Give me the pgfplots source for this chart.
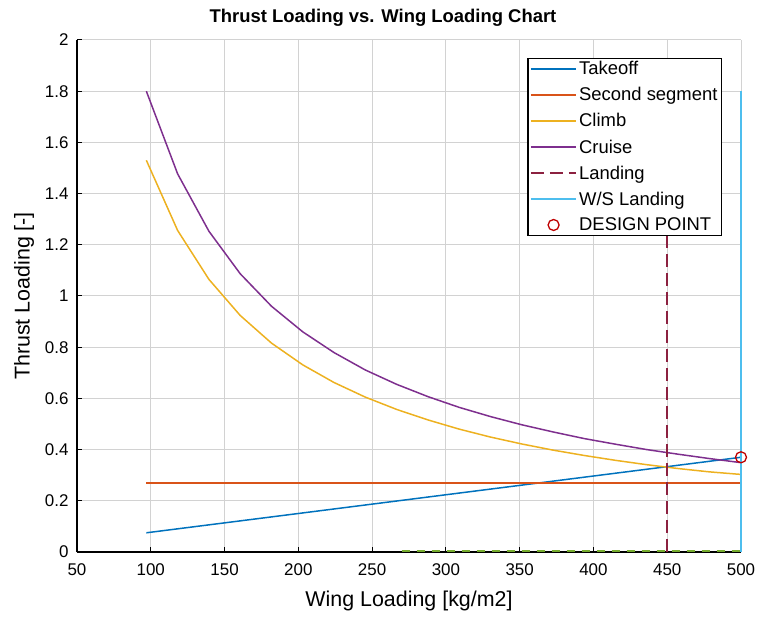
\documentclass[border=0pt]{standalone}
\usepackage{pgfplots}
\pgfplotsset{compat=1.18}
\usepackage{fontspec}
\setmainfont{Liberation Sans}
\definecolor{cTO}{rgb}{0,0.447,0.741}
\definecolor{cSS}{rgb}{0.85,0.325,0.098}
\definecolor{cCL}{rgb}{0.929,0.694,0.125}
\definecolor{cCR}{rgb}{0.494,0.184,0.556}
\definecolor{cLA}{rgb}{0.55,0.13,0.25}
\definecolor{cWS}{rgb}{0.301,0.745,0.933}
\definecolor{cGR}{rgb}{0.466,0.674,0.188}
\definecolor{cDP}{rgb}{0.75,0,0}
\begin{document}
\begin{tikzpicture}
\begin{axis}[
  name=ax,
  scale only axis,
  width=664bp, height=512bp,
  xmin=50, xmax=500, ymin=0, ymax=2,
  clip=false,
  axis x line*=bottom, axis y line*=left,
  xtick={50,100,...,500},
  ytick={0,0.2,0.4,0.6,0.8,1,1.2,1.4,1.6,1.8,2},
  yticklabels={0,0.2,0.4,0.6,0.8,1,1.2,1.4,1.6,1.8,2},
  /pgf/number format/assume math mode=true,
  tick align=inside,
  major tick length=5bp,
  tick style={black, line width=1pt},
  grid=major,
  grid style={gray!35, line width=1pt},
  axis line style={black, line width=1.2pt},
  ticklabel style={font=\fontsize{17}{20}\selectfont},
  xticklabel style={yshift=-8bp},
  yticklabel style={xshift=-5bp},
  title={\textbf{Thrust Loading vs. Wing Loading Chart}},
  title style={font=\fontsize{18.5}{21}\selectfont, yshift=4bp, xshift=-26bp},
  xlabel={Wing Loading [kg/m2]},
  ylabel={Thrust Loading [-]},
  label style={font=\fontsize{21.5}{25}\selectfont},
  xlabel style={yshift=-9bp},
  ylabel style={yshift=4bp},
  legend style={at={(0.9715,0.965)}, anchor=north east, draw=black, fill=white,
    font=\fontsize{18.5}{21}\selectfont, row sep=9.2bp, inner sep=2bp,
    line width=1.2pt, nodes={inner ysep=1bp}},
  legend cell align=left,
  legend image code/.code={\draw[mark repeat=2,mark phase=2,#1] plot coordinates {(0cm,0cm) (0.8cm,0cm) (1.6cm,0cm)};},
]
\addplot[cGR, line width=1.5pt, dash pattern=on 8bp off 7bp, forget plot] coordinates {(270,0.003) (500,0.003)};
\addplot[cTO, line width=1.5pt] coordinates {(97,0.075) (500,0.37)};
\addlegendentry{Takeoff}
\addplot[cSS, line width=1.5pt] coordinates {(97,0.27) (500,0.27)};
\addlegendentry{Second segment}
\addplot[cCL, line width=1.5pt] coordinates {
(97,1.530) (118.2,1.256) (139.4,1.065) (160.6,0.924) (181.8,0.816) (203,0.731)
(224.2,0.662) (245.4,0.605) (266.6,0.557) (287.8,0.516) (309,0.480) (330.2,0.449)
(351.4,0.422) (372.6,0.398) (393.8,0.377) (415,0.358) (436.2,0.341) (457.4,0.326)
(478.6,0.313) (500,0.303)};
\addlegendentry{Climb}
\addplot[cCR, line width=1.5pt] coordinates {
(97,1.800) (118.2,1.477) (139.4,1.253) (160.6,1.087) (181.8,0.960) (203,0.860)
(224.2,0.779) (245.4,0.711) (266.6,0.655) (287.8,0.607) (309,0.565) (330.2,0.529)
(351.4,0.497) (372.6,0.469) (393.8,0.443) (415,0.421) (436.2,0.400) (457.4,0.382)
(478.6,0.365) (500,0.349)};
\addlegendentry{Cruise}
\addplot[cLA, line width=1.8pt, dash pattern=on 13bp off 6bp] coordinates {(450,0) (450,1.8)};
\addlegendentry{Landing}
\addplot[cWS, line width=1.8pt] coordinates {(500,0) (500,1.8)};
\addlegendentry{W/S Landing}
\addplot[cDP, only marks, mark=o, mark size=5.5bp, line width=1.3pt] coordinates {(500,0.37)};
\addlegendentry{DESIGN POINT}
\end{axis}
\pgfresetboundingbox
\path ([shift={(-77bp,-67bp)}]ax.south west) rectangle ([shift={(20bp,40bp)}]ax.north east);
\end{tikzpicture}
\end{document}
